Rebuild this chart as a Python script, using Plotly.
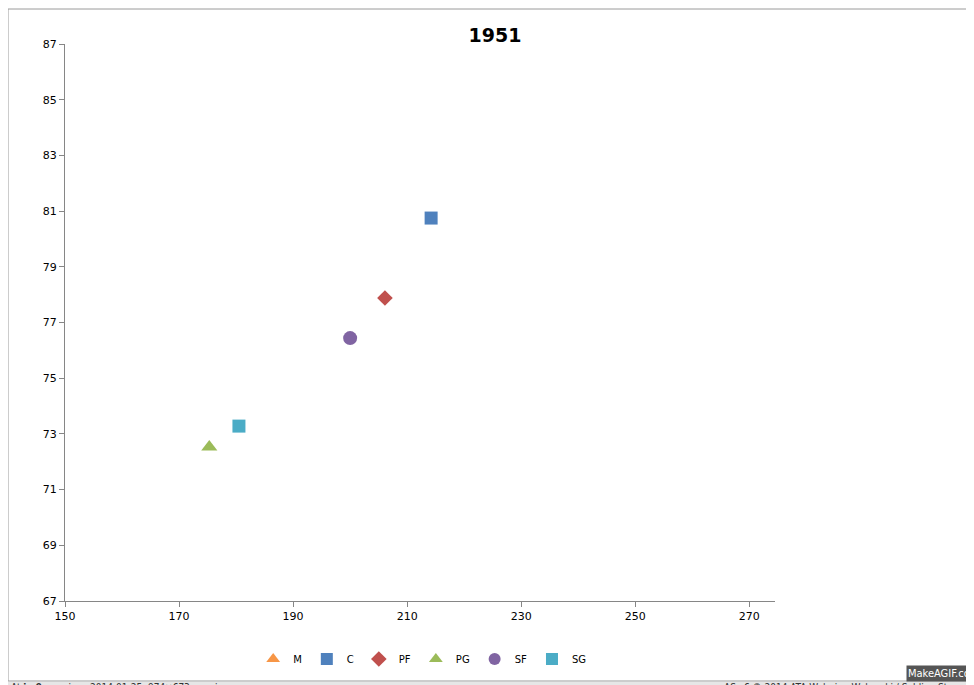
import plotly.graph_objects as go

# positions (weight vs height) for 1951
series = ["M", "C", "PF", "PG", "SF", "SG"]
x_vals = [None, 214.2, 206.1, 175.3, 200.0, 180.5]
y_vals = [None, 80.75, 77.88, 72.53, 76.44, 73.28]
colors = ["#F79646", "#4F81BD", "#C0504D", "#9BBB59", "#8064A2", "#4BACC6"]
symbols = ["triangle-up", "square", "diamond", "triangle-up", "circle", "square"]
sizes = [14, 13, 12, 14, 14, 13]

fig = go.Figure()
for name, x, y, c, s, sz in zip(series, x_vals, y_vals, colors, symbols, sizes):
    fig.add_trace(go.Scatter(
        x=[x], y=[y], mode="markers", name=name,
        marker=dict(color=c, symbol=s, size=sz),
    ))

W, H = 974, 685
PW, PH = 710, 557
fig.update_layout(
    width=W, height=H,
    paper_bgcolor="white", plot_bgcolor="white",
    margin=dict(l=57, r=207, t=36, b=92, autoexpand=False),
    font=dict(family="DejaVu Sans", size=11, color="#000"),
    title=dict(text="<b>1951</b>", x=487 / W, xanchor="center", y=1 - 27 / H, yanchor="middle",
               font=dict(family="DejaVu Sans", size=19, color="#000")),
    showlegend=True,
    legend=dict(orientation="h", x=490 / W, xanchor="center", y=-58 / PH, yanchor="middle",
                font=dict(size=10), itemwidth=30, itemsizing="constant", tracegroupgap=0),
    xaxis=dict(range=[150, 274.5], tick0=150, dtick=20, showgrid=False, zeroline=False,
               showline=True, linecolor="#868686", ticks="outside", ticklen=5, tickcolor="#868686"),
    yaxis=dict(range=[67, 87], tick0=67, dtick=2, showgrid=False, zeroline=False,
               showline=True, linecolor="#868686", ticks="outside", ticklen=5, tickcolor="#868686"),
)

# outer frame and gif footer strip
fig.add_shape(type="rect", xref="paper", yref="paper", x0=-57 / PW, x1=(PW + 206) / PW,
              y0=-80 / PH, y1=(PH + 35) / PH, line=dict(color="#9a9a9a", width=1), layer="below")
fig.add_shape(type="rect", xref="paper", yref="paper", x0=-57 / PW, x1=(PW + 207) / PW,
              y0=-92 / PH, y1=-81 / PH, fillcolor="#e6e6e6", line=dict(width=0))
foot = dict(family="Liberation Sans Narrow, DejaVu Sans Condensed", size=10, color="#333")
fig.add_annotation(xref="paper", yref="paper", x=-55 / PW, y=-86.5 / PH, xanchor="left", yanchor="middle",
                   text="At <b>im9.eu</b>  since 2014-01-25, 974×673px anim.", showarrow=False,
                   font=foot, borderpad=0)
fig.add_annotation(xref="paper", yref="paper", x=(PW + 204) / PW, y=-86.5 / PH, xanchor="right", yanchor="middle",
                   text="AS v6 © 2014 ATA Walerian Walawski / SublimeStar.com", showarrow=False,
                   font=foot, borderpad=0)
fig.add_annotation(xref="paper", yref="paper", x=(PW + 206) / PW, y=-72 / PH, xanchor="right", yanchor="middle",
                   text="MakeAGIF.com", showarrow=False, bgcolor="#555", borderpad=1,
                   font=dict(family="Liberation Sans Narrow, DejaVu Sans Condensed", size=11, color="white"))

fig.write_html("out.html")
